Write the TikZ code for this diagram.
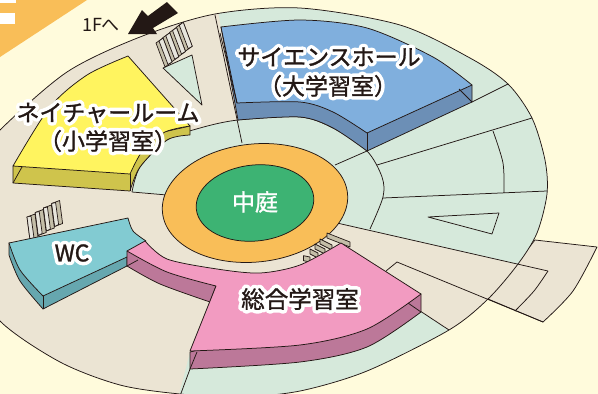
\documentclass[tikz,border=0pt]{standalone}
\usepackage{fontspec}
\setmainfont{Noto Sans CJK JP}
\newfontface\labelfont[FakeBold=1.2]{Noto Sans CJK JP}
\newfontface\halofont[FakeBold=32]{Noto Sans CJK JP}
\definecolor{paper}{HTML}{FFFBDC}
\definecolor{ink}{HTML}{231815}
\definecolor{sand}{HTML}{EBE4D3}
\definecolor{mint}{HTML}{D6E9DB}
\definecolor{amber}{HTML}{F9BE58}
\definecolor{court}{HTML}{3DB373}
\definecolor{blueT}{HTML}{80AFDD}
\definecolor{blueS}{HTML}{6C8FB6}
\definecolor{yelT}{HTML}{FFF45F}
\definecolor{yelS}{HTML}{CFC44C}
\definecolor{pinkT}{HTML}{F29BC1}
\definecolor{pinkS}{HTML}{BC7899}
\definecolor{wcT}{HTML}{82CBD2}
\definecolor{wcS}{HTML}{66A7AF}
\definecolor{stairc}{HTML}{C4BEA8}
\newcommand{\outerpts}{(0,130) (67,72) (140,37) (215,14) (300,8) (400,25) (470,58) (508,84) (532,118) (545,160) (547,194) (537,233) (518,264) (488,299) (449,330) (367,371) (300,391) (240,397) (180,394) (120,385) (60,362) (0,321) (-30,270) (-40,210) (-28,165)}
\newcommand{\roomlabel}[4]{%
  \begin{scope}[line join=round]
  \node[text=white,font=\halofont\fontsize{#3}{#3pt}\selectfont] (#1h) at (#2) {#4};
  \end{scope}
  \node[text=ink,font=\labelfont\fontsize{#3}{#3pt}\selectfont] (#1) at (#2) {#4};}
\tikzset{ln/.style={draw=ink,line width=0.75pt,line join=round},
 fine/.style={draw=ink,line width=0.7pt,line join=round}}
\begin{document}
\begin{tikzpicture}[x=1pt,y=-1pt]
\useasboundingbox (0,0) rectangle (598,394);
\fill[paper] (0,0) rectangle (598,394);
% corner
\fill[amber] (0,0) -- (87,0) -- (0,57) -- cycle;
\fill[white] (0,0) rectangle (16,3);
\fill[white] (0,13) rectangle (15,24);
% protrusion
\path[fill=sand,ln] (535,240) -- (597,247) -- plot[smooth] coordinates {(597,247) (573,291) (543,322)} -- (488,299) -- cycle;
% plan
\fill[mint] plot[smooth cycle] coordinates {\outerpts};
\begin{scope}
\clip plot[smooth cycle] coordinates {\outerpts};
\fill[sand] (215,-5) -- (242,143) -- (255,200) -- (337,223) -- (600,283) -- (600,370) -- (449,330) -- (408,303) -- (190,352) -- (175,410) -- (-50,410) -- (-50,-5) -- cycle;
\end{scope}
\draw[ln] plot[smooth cycle] coordinates {\outerpts};
% ring
\path[fill=mint] plot[smooth] coordinates {(132,192) (140,167) (167,140) (200,128) (238,120) (300,117) (333,128) (367,151) (382,177) (383,197) (370,229)} -- (337,223) -- (255,200) -- (167,195) -- cycle;
\draw[ln] plot[smooth] coordinates {(132,192) (140,167) (167,140) (200,128) (238,120) (300,117) (333,128) (367,151) (382,177) (383,197) (370,229)};
\draw[ln] (132,192) -- (167,195);
\draw[ln] (215,15) -- (242,143);
\draw[ln] (367,151) -- (335,165);
\draw[ln] (472,102) -- (508,84);
\draw[ln] (377,165) -- (532,118);
\draw[ln] plot[smooth] coordinates {(493,131) (503,163) (504,193)};
\draw[ln] (383,198) -- (547,191);
\draw[ln] (428,217) -- (499,213) -- (492,234) -- cycle;
\draw[ln] (337,223) -- (548,271);
\draw[ln] plot[smooth] coordinates {(548,271) (534,291) (515,311)};
\draw[ln] (386,271) -- (397,262) -- (543,322);
\draw[ln] (408,303) -- (449,330);
\draw[ln] (190,369) -- (180,396);
% court
\draw[ln,fill=amber,rotate around={6:(255,203)}] (255,203) ellipse [x radius=93,y radius=59];
\draw[ln,fill=court,rotate around={6:(255,203)}] (255,203) ellipse [x radius=59,y radius=38];
% stairs
\foreach \sa/\sb/\sc/\sd in {327/233/350/242,320/239/332/245,315/244/325/249,310/249/318/253,303.5/255.7/310/257}{
  \draw[fine,fill=stairc] (\sa,\sb) -- (\sc,\sd) -- (\sc,\sd+5) -- (\sa,\sb+5) -- cycle;}
\path[fill=mint,ln] (163,68) -- (192,55) -- (202,105) -- cycle;
\foreach \i in {3,2,1,0}{
  \begin{scope}[shift={(\i*6.75,-\i*5.25)}]
  \draw[fine,fill=stairc] (156,43) -- (163,38) -- (172,62) -- (165,67) -- cycle;
  \draw[fine,fill=white!60!stairc] (159,41) -- (163,38) -- (172,62) -- (168,64.5) -- cycle;
  \end{scope}}
\foreach \i in {3,2,1,0}{
  \begin{scope}[shift={(\i*8.2,-\i*4.5)}]
  \draw[fine,fill=stairc] (27,217) -- (35,214) -- (38,237) -- (30,240) -- cycle;
  \draw[fine,fill=white!60!stairc] (27,217) -- (31,216) -- (34,238) -- (30,240) -- cycle;
  \end{scope}}
% Science hall
\path[fill=blueS,ln] (221,27) -- plot[smooth] coordinates {(238,120) (300,117) (333,128) (367,151)} -- (472,102) -- (472,85) -- cycle;
\path[fill=blueT,ln] plot[smooth] coordinates {(221,27) (300,20) (367,28) (433,57) (472,85)} -- plot[smooth] coordinates {(367,133) (333,112) (300,102) (237,103)} -- cycle;
\draw[ln] (367,133) -- (367,151);
\draw[ln] (459,89) -- (472,102);
\draw[ln] (220,33) -- (237,103);
% Nature room
\path[fill=yelS,ln] (13,166) -- (13,183) -- plot[smooth] coordinates {(130,191) (140,167) (167,140) (190,135)} -- (190,126) -- cycle;
\path[fill=yelT,ln] plot[smooth] coordinates {(13,166) (50,107) (87,75) (128,56)} -- plot[smooth] coordinates {(190,126) (165,132) (143,150) (130,174)} -- cycle;
\draw[ln] (130,174) -- (130,191);
\draw[ln] (13,183) -- (22,167);
% WC
\path[fill=wcS,ln] (9,243) -- plot[smooth] coordinates {(9,255) (20,281) (43,309)} -- (127,266) -- (127,251) -- cycle;
\path[fill=wcT,ln] (9,243) -- plot[smooth] coordinates {(128,218) (133,231) (146,241)} -- (127,257) -- plot[smooth] coordinates {(43,296) (20,270) (9,243)} -- cycle;
\draw[ln] (43,296) -- (43,309);
% Multipurpose room
\path[fill=pinkS,ln] (127,251) -- plot[smooth] coordinates {(127,266) (160,284) (210,302)} -- (216,286) -- cycle;
\draw[ln] (127,266) -- (138,260);
\path[fill=pinkS,ln] (190,352) -- plot[smooth] coordinates {(190,369) (300,362) (367,347) (421,312)} -- (421,294) -- cycle;
\path[fill=pinkT,ln] (127,251) -- plot[smooth] coordinates {(145,241) (167,259) (217,269) (260,273) (300,265) (341,243)} -- plot[smooth] coordinates {(421,294) (367,329) (300,345) (190,351)} -- plot[smooth] coordinates {(216,286) (167,272) (127,251)} -- cycle;
\draw[ln] (197,352) -- (190,369);
\draw[ln] (408,303) -- (421,312);
% arrow
\fill[ink] (128,34) -- (142,10) -- (148,16) -- (167,2) -- (178,13) -- (153,28) -- (157,34) -- cycle;
% labels
\node[text=ink,font=\fontsize{18}{18pt}\selectfont] (up) at (101,25) {1Fへ};
\node[text=white,font=\labelfont\fontsize{23}{23pt}\selectfont] (court) at (255,202) {中庭};
\roomlabel{sci}{329,57}{23}{サイエンスホール}
\roomlabel{scib}{328,86}{23}{（大学習室）}
\roomlabel{nat}{108,113}{23}{ネイチャールーム}
\roomlabel{natb}{108,141}{23}{（小学習室）}
\roomlabel{wc}{72,253}{23}{WC}
\roomlabel{gen}{300,299}{23.5}{総合学習室}
\end{tikzpicture}
\end{document}
